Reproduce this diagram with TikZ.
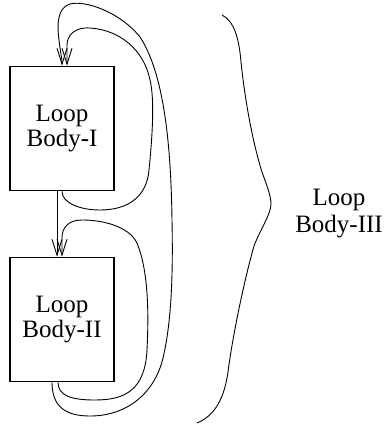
\documentclass[tikz,border=0pt]{standalone}
\usepackage{fontspec}
\setmainfont{Liberation Serif}
\usetikzlibrary{arrows.meta}
\begin{document}
\begin{tikzpicture}[x=1pt,y=-1pt,
  bodybox/.style={draw, line width=1.6pt, minimum width=104pt, minimum height=124pt,
    inner sep=0pt, align=center, font=\fontsize{25}{25}\selectfont},
  label3/.style={align=center, font=\fontsize{25}{27}\selectfont},
  flow/.style={line width=0.9pt, -{Straight Barb[length=16pt,width=10pt,line width=0.9pt]}},
  brace/.style={line width=0.9pt}]
\useasboundingbox (0,0) rectangle (388,425);

% the two loop bodies
\node[bodybox] (b1) at (62,128.5) {Loop\\Body-I};
\node[bodybox] (b2) at (62,319.5) {Loop\\Body-II};
\node[label3] (b3) at (339,214) {Loop\\Body-III};

% fall-through from body I into body II
\draw[flow] ([xshift=-5pt]b1.south) -- ([xshift=-5pt]b2.north);

% back edge of the inner loop I
\draw[flow] (b1.south)
  .. controls (62,203) and (80,210) .. (100,210)
  .. controls (130,210) and (147,195) .. (149,170)
  .. controls (152,140) and (155,100) .. (150,80)
  .. controls (144,50) and (120,30) .. (90,28)
  .. controls (75,27) and (67,35) .. (67,45)
  -- ([xshift=5pt]b1.north);

% back edge of the inner loop II
\draw[flow] ([xshift=-4pt]b2.south)
  .. controls (58,396) and (72,400) .. (95,400)
  .. controls (125,400) and (145,390) .. (147,350)
  .. controls (149,310) and (148,270) .. (137,243)
  .. controls (128,225) and (100,220) .. (82,220)
  .. controls (68,220) and (62,228) .. (62,238)
  -- (b2.north);

% back edge of the outer loop III
\draw[flow] ([xshift=-10pt]b2.south)
  .. controls (52,407) and (66,416) .. (90,416)
  .. controls (128,416) and (155,392) .. (163,358)
  .. controls (172,320) and (173,270) .. (172,220)
  .. controls (171,150) and (165,75) .. (140,37)
  .. controls (120,12) and (85,0) .. (70,4)
  .. controls (57,8) and (57,25) .. (59,40)
  .. controls (60,50) and (62,58) .. (b1.north);

% brace grouping both bodies
\draw[brace] (222,15)
  .. controls (234,21) and (239,38) .. (241,62)
  .. controls (246,110) and (255,150) .. (262,172)
  .. controls (267,186) and (271,196) .. (271,204)
  .. controls (271,214) and (260,230) .. (254,246)
  .. controls (243,285) and (232,340) .. (228,372)
  .. controls (224,400) and (214,416) .. (197,423);
\end{tikzpicture}
\end{document}
